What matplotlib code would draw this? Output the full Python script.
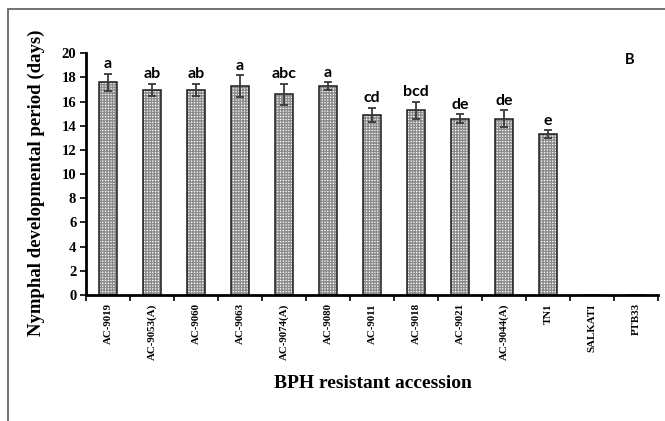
import matplotlib
matplotlib.use("Agg")
import matplotlib.pyplot as plt
from matplotlib.patches import Rectangle
import numpy as np


# -----------------------------------------
# data
# -----------------------------------------
accessions = ["AC-9019", "AC-9053(A)", "AC-9060", "AC-9063", "AC-9074(A)",
              "AC-9080", "AC-9011", "AC-9018", "AC-9021", "AC-9044(A)",
              "TN1", "SALKATI", "PTB33"]
nymphal_days = [17.6, 17.0, 17.0, 17.3, 16.6, 17.3, 14.9, 15.3, 14.6, 14.6,
                13.3, 0, 0]
std_err = [0.7, 0.5, 0.5, 0.9, 0.9, 0.3, 0.6, 0.7, 0.35, 0.7, 0.35, 0, 0]
groups = ["a", "ab", "ab", "a", "abc", "a", "cd", "bcd", "de", "de", "e",
          "", ""]

serif = "Liberation Serif"
sans = "Lato"

# -----------------------------------------
# figure
# -----------------------------------------
fig = plt.figure(figsize=(6.65, 4.21), dpi=100)
ax = fig.add_axes([0.1293, 0.2993, 0.8602, 0.5741])

# outer frame of the pasted chart
fig.patches.append(Rectangle((8 / 665, -0.1), 1.1, 1.1 - 9 / 421,
                             transform=fig.transFigure, fill=False,
                             edgecolor="#5a5a5a", linewidth=1.2))

x = np.arange(len(accessions))
width = 0.41
heights = np.array(nymphal_days)
errs = np.array(std_err)

# stippled fill, then dark outline
ax.bar(x, heights, width, color="white", edgecolor="#8c8c8c",
       hatch="++++++", linewidth=0)
ax.bar(x, heights, width, fill=False, edgecolor="#1a1a1a", linewidth=1.1)

has_bar = heights > 0
ax.errorbar(x[has_bar], heights[has_bar], yerr=errs[has_bar], fmt="none",
            ecolor="#3a3a3a", elinewidth=1.3, capsize=3, capthick=1.3)

for xi, h, e, g in zip(x, heights, errs, groups):
    if g:
        ax.text(xi, h + e + 0.2, g, ha="center", va="bottom",
                fontsize=11.5, fontweight="bold", family=sans)

ax.set_xlim(-0.5, len(accessions) - 0.5)
ax.set_ylim(0, 20)
ax.set_yticks(range(0, 21, 2))
ax.set_yticklabels([str(v) for v in range(0, 21, 2)], fontsize=10.5,
                   fontweight="bold", family=serif)

# ticks sit between categories, labels under the bars
ax.set_xticks(np.arange(-0.5, len(accessions), 1.0))
ax.set_xticklabels([])
ax.set_xticks(x, minor=True)
ax.set_xticklabels(accessions, minor=True, rotation=90, fontsize=7.8,
                   fontweight="bold", family=serif, va="top")
ax.tick_params(axis="x", which="minor", length=0, pad=6)
ax.tick_params(axis="x", which="major", length=4, width=1.2, direction="out")
ax.tick_params(axis="y", length=4, width=1.2, direction="out", pad=3)

for side in ["top", "right"]:
    ax.spines[side].set_visible(False)
for side in ["left", "bottom"]:
    ax.spines[side].set_linewidth(2)

fig.text(36 / 665, 1 - 183 / 421, "Nymphal developmental period (days)",
         rotation=90, ha="center", va="center", fontsize=13.5,
         fontweight="bold", family=serif)
fig.text(373 / 665, 1 - 383 / 421, "BPH resistant accession",
         ha="center", va="center", fontsize=14, fontweight="bold",
         family=serif)
fig.text(630 / 665, 1 - 60 / 421, "B", ha="center", va="center",
         fontsize=10.5, fontweight="bold", family=sans)

fig.savefig("out.png", dpi=100)
